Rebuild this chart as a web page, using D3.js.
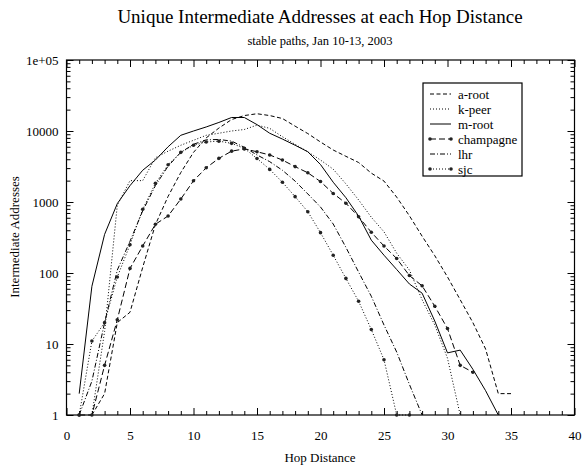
<!DOCTYPE html>
<html>
<head>
<meta charset="utf-8">
<script src="https://cdn.jsdelivr.net/npm/d3@7.9.0/dist/d3.min.js"></script>
<style>
  body { margin: 0; background: #fff; }
  svg { font-family: 'Liberation Serif', 'Times New Roman', serif; }
</style>
</head>
<body>
<svg id="chart" width="583" height="466"></svg>
<script>
// Data (hop distance -> unique addresses)
const seriesNames = ['a-root', 'k-peer', 'm-root', 'champagne', 'lhr', 'sjc'];

const aRootStart = 2;
const aRoot = [1, 2, 20, 28, 120, 480, 1200, 2600, 5000, 8000, 11000, 14500, 16500, 17500,
  16500, 15000, 11700, 9200, 7000, 5400, 4400, 3600, 2550, 1970, 1170, 640, 330, 175, 88,
  42, 20, 8.5, 2, 2];

const kPeerStart = 2;
const kPeer = [1, 15, 900, 2000, 2000, 4200, 5200, 6300, 7400, 8700, 9300, 10000, 10500,
  12100, 10900, 8300, 6500, 5100, 3900, 2900, 1800, 1070, 610, 380, 190, 110, 42, 18.5, 6.3, 1];

const mRootStart = 1;
const mRoot = [2, 65, 350, 950, 1700, 2800, 3900, 6000, 8700, 10000, 11400, 13200, 15500,
  15500, 12300, 9300, 7700, 6300, 5100, 3370, 1900, 1150, 635, 290, 178, 112, 70, 52, 21,
  7.5, 8.2, 4.4, 2.2, 1];

const champagneStart = 1;
const champagne = [1, 1, 5, 22, 116, 240, 485, 636, 1100, 1990, 3030, 4120, 5200, 5600, 5100,
  4600, 3900, 3150, 2580, 1940, 1320, 960, 620, 375, 240, 160, 92, 66, 34, 16.5, 5, 4];

const lhrStart = 1;
const lhr = [1, 3, 20, 110, 280, 750, 1700, 3200, 5000, 6500, 7500, 7600, 7200, 5900, 4600,
  3700, 2800, 1970, 1300, 850, 490, 230, 103, 47, 18.5, 7.7, 2.7, 1];

const sjcStart = 1;
const sjc = [1, 11, 20, 88, 250, 790, 1830, 3350, 5000, 6300, 7000, 7200, 6700, 5700, 4100,
  2880, 1900, 1190, 730, 370, 178, 84, 40, 16, 6, 1, 1];

const xTicks = [0, 5, 10, 15, 20, 25, 30, 35, 40];
const yTicks = [1, 10, 100, 1000, 10000, 100000];
const yTickLabels = ['1', '10', '100', '1000', '10000', '1e+05'];

// line styles per series
const styles = {
  'a-root':    { dash: '4,2.5', marker: false },
  'k-peer':    { dash: '1,2', marker: false },
  'm-root':    { dash: null, marker: false },
  'champagne': { dash: '6,3', marker: true },
  'lhr':       { dash: '5,2,1,2', marker: false },
  'sjc':       { dash: '1,2', marker: true },
};

function toPoints(start, values) {
  return values.map((v, i) => ({ hop: start + i, value: v }));
}

const series = [
  { name: 'a-root', points: toPoints(aRootStart, aRoot) },
  { name: 'k-peer', points: toPoints(kPeerStart, kPeer) },
  { name: 'm-root', points: toPoints(mRootStart, mRoot) },
  { name: 'champagne', points: toPoints(champagneStart, champagne) },
  { name: 'lhr', points: toPoints(lhrStart, lhr) },
  { name: 'sjc', points: toPoints(sjcStart, sjc) },
];

const svg = d3.select('#chart');
const plotLeft = 66.5, plotRight = 574.5, plotTop = 60, plotBottom = 415;

const x = d3.scaleLinear().domain([0, 40]).range([plotLeft, plotRight]);
const y = d3.scaleLog().domain([1, 100000]).range([plotBottom, plotTop]);

// minor tick values
const xMinor = d3.range(0, 41).filter((d) => d % 5 !== 0);
const yMinor = [];
for (let e = 0; e < 5; e++) {
  for (let m = 2; m <= 9; m++) yMinor.push(m * Math.pow(10, e));
}

// axes: ticks point inward on every side
function addAxis(axis, tx, ty, labels) {
  const g = svg.append('g').attr('transform', `translate(${tx},${ty})`).call(axis);
  g.select('.domain').remove();
  g.selectAll('line').attr('stroke', '#000').attr('stroke-width', 1);
  g.selectAll('text')
    .attr('font-family', "'Liberation Serif', serif")
    .attr('font-size', 13)
    .attr('fill', '#000');
  if (!labels) g.selectAll('text').remove();
  return g;
}

addAxis(d3.axisBottom(x).tickValues(xTicks).tickSize(-7).tickPadding(16), 0, plotBottom, true);
addAxis(d3.axisBottom(x).tickValues(xMinor).tickSize(-4), 0, plotBottom, false);
addAxis(d3.axisTop(x).tickValues(xTicks).tickSize(-7), 0, plotTop, false);
addAxis(d3.axisTop(x).tickValues(xMinor).tickSize(-4), 0, plotTop, false);

addAxis(d3.axisLeft(y).tickValues(yTicks).tickSize(-7).tickPadding(8)
  .tickFormat((d, i) => yTickLabels[i]), plotLeft, 0, true);
addAxis(d3.axisLeft(y).tickValues(yMinor).tickSize(-4), plotLeft, 0, false);
addAxis(d3.axisRight(y).tickValues(yTicks).tickSize(-7), plotRight, 0, false);
addAxis(d3.axisRight(y).tickValues(yMinor).tickSize(-4), plotRight, 0, false);

// frame
svg.append('rect')
  .attr('x', plotLeft).attr('y', plotTop)
  .attr('width', plotRight - plotLeft).attr('height', plotBottom - plotTop)
  .attr('fill', 'none').attr('stroke', '#000').attr('stroke-width', 1.2);

// lines
const line = d3.line().x((d) => x(d.hop)).y((d) => y(d.value));

series.forEach((s) => {
  const st = styles[s.name];
  svg.append('path')
    .datum(s.points)
    .attr('d', line)
    .attr('fill', 'none')
    .attr('stroke', '#000')
    .attr('stroke-width', 1)
    .attr('stroke-dasharray', st.dash);
  if (st.marker) {
    svg.append('g').selectAll('circle')
      .data(s.points)
      .join('circle')
      .attr('cx', (d) => x(d.hop))
      .attr('cy', (d) => y(d.value))
      .attr('r', 1.8)
      .attr('fill', '#222');
  }
});

// titles
svg.append('text')
  .attr('x', 320).attr('y', 23)
  .attr('text-anchor', 'middle')
  .attr('font-size', 19)
  .text('Unique Intermediate Addresses at each Hop Distance');

svg.append('text')
  .attr('x', 320).attr('y', 45)
  .attr('text-anchor', 'middle')
  .attr('font-size', 12.5)
  .text('stable paths, Jan 10-13, 2003');

svg.append('text')
  .attr('x', 320).attr('y', 462)
  .attr('text-anchor', 'middle')
  .attr('font-size', 13)
  .text('Hop Distance');

svg.append('text')
  .attr('transform', 'translate(19,237) rotate(-90)')
  .attr('text-anchor', 'middle')
  .attr('font-size', 13)
  .text('Intermediate Addresses');

// legend
const legend = svg.append('g');
legend.append('rect')
  .attr('x', 423).attr('y', 83)
  .attr('width', 99).attr('height', 93)
  .attr('fill', '#fff').attr('stroke', '#000').attr('stroke-width', 1.2);

seriesNames.forEach((name, i) => {
  const st = styles[name];
  const ly = 94 + i * 15;
  legend.append('line')
    .attr('x1', 430).attr('x2', 451)
    .attr('y1', ly).attr('y2', ly)
    .attr('stroke', '#000').attr('stroke-width', 1)
    .attr('stroke-dasharray', st.dash);
  if (st.marker) {
    [430, 451].forEach((cx) => {
      legend.append('circle').attr('cx', cx).attr('cy', ly).attr('r', 1.8).attr('fill', '#222');
    });
  }
  legend.append('text')
    .attr('x', 458).attr('y', ly + 4.5)
    .attr('font-size', 13)
    .text(name);
});
</script>
</body>
</html>
